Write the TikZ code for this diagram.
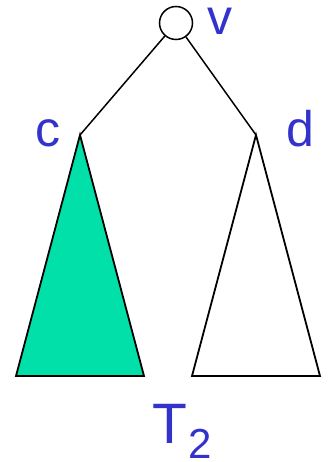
\documentclass[tikz,border=0pt]{standalone}
\usepackage{fontspec}
\setmainfont{Liberation Sans}
\definecolor{lblue}{RGB}{51,51,204}
\definecolor{tgreen}{RGB}{0,224,168}
\begin{document}
\begin{tikzpicture}[x=1pt,y=-1pt,
  lbl/.style={text=lblue,font=\fontsize{50}{50}\selectfont,anchor=base,inner sep=0pt},
  edge/.style={line width=1.5pt},
  tri/.style={line width=1.8pt,line join=miter}]
\useasboundingbox (0,0) rectangle (328,462);
\node[draw,circle,line width=1.5pt,minimum size=33pt,inner sep=0pt] (v) at (176,23) {};
\coordinate (c) at (80,135);
\coordinate (d) at (256,135);
\coordinate (cl) at (16,376);
\coordinate (cr) at (144,376);
\coordinate (dl) at (192,376);
\coordinate (dr) at (320,376);
\draw[edge] (v) -- (c);
\draw[edge] (v) -- (d);
\draw[tri,fill=tgreen] (c) -- (cl) -- (cr) -- cycle;
\draw[tri] (d) -- (dl) -- (dr) -- cycle;
\node[lbl] (vl) at (220,35) {v};
\node[lbl] (cla) at (47.5,147) {c};
\node[lbl] (dla) at (300,147) {d};
\node[lbl,font=\fontsize{57}{57}\selectfont] (t) at (170,443) {T};
\node[lbl,font=\fontsize{42}{42}\selectfont] (t2) at (200,458) {2};
\end{tikzpicture}
\end{document}
